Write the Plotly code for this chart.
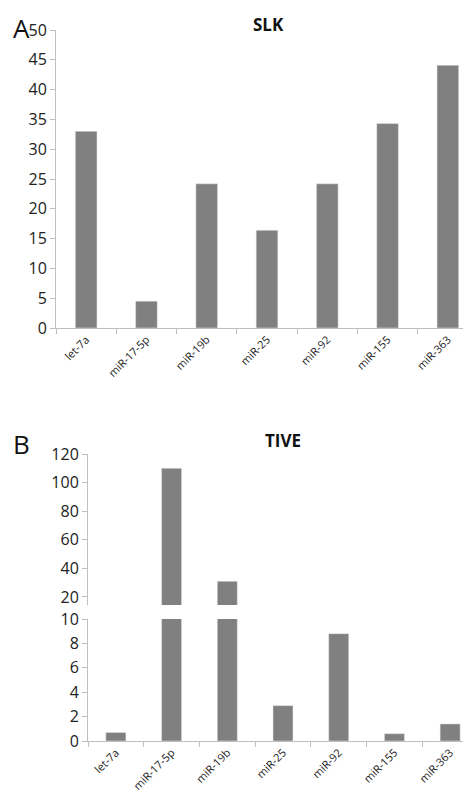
import plotly.graph_objects as go

mirnas = ["let-7a", "miR-17-5p", "miR-19b", "miR-25", "miR-92", "miR-155", "miR-363"]
slk = [33.0, 4.5, 24.2, 16.4, 24.2, 34.3, 44.1]
tive = [0.7, 110, 31, 2.9, 8.8, 0.6, 1.4]

W, H = 471, 800
bar_col = "#808080"
axis_col = "#bfbfbf"
tick_font = dict(family="Open Sans, DejaVu Sans", size=16, color="#222")
cat_font = dict(family="Open Sans, DejaVu Sans", size=11, color="#222")


def px_x(p):
    return p / W


def px_y(p):
    return 1 - p / H


fig = go.Figure()
fig.add_trace(go.Bar(x=mirnas, y=slk, marker_color=bar_col, xaxis="x", yaxis="y"))
fig.add_trace(go.Bar(x=mirnas, y=tive, marker_color=bar_col, xaxis="x2", yaxis="y2"))
fig.add_trace(go.Bar(x=mirnas, y=tive, marker_color=bar_col, xaxis="x3", yaxis="y3"))

xcommon = dict(showline=True, linecolor=axis_col, ticks="outside", tickcolor=axis_col,
               tickson="boundaries", ticklen=5, tickangle=-45, tickfont=cat_font,
               showgrid=False, fixedrange=True, automargin=False)
ycommon = dict(showline=True, linecolor=axis_col, ticks="outside", tickcolor=axis_col,
               ticklen=5, tickfont=tick_font, showgrid=False, zeroline=False, automargin=False)


def label(text, x, y, size, bold=False):
    return dict(text=f"<b>{text}</b>" if bold else text, x=px_x(x), y=px_y(y),
                xref="paper", yref="paper", xanchor="center", yanchor="middle",
                showarrow=False, font=dict(family="Open Sans, DejaVu Sans", size=size, color="#111"))


fig.update_layout(
    width=W, height=H, margin=dict(l=0, r=0, t=0, b=0, autoexpand=False),
    paper_bgcolor="white", plot_bgcolor="white", showlegend=False, bargap=0.64,
    xaxis=dict(domain=[px_x(48), px_x(470)], anchor="y", **xcommon),
    yaxis=dict(domain=[px_y(320), px_y(22)], range=[0, 50], dtick=5, anchor="x", **ycommon),
    xaxis2=dict(domain=[px_x(80), px_x(470)], anchor="y2", **xcommon),
    yaxis2=dict(domain=[px_y(733), px_y(611)], range=[0, 10], dtick=2, anchor="x2", **ycommon),
    xaxis3=dict(domain=[px_x(80), px_x(470)], anchor="y3", matches="x2", visible=False),
    yaxis3=dict(domain=[px_y(597), px_y(446)], range=[14.4, 120], tickvals=[20, 40, 60, 80, 100, 120],
                anchor="x3", **ycommon),
    annotations=[
        label("SLK", 260, 16, 17, bold=True),
        label("TIVE", 275, 432, 17, bold=True),
        label("A", 13, 20, 26),
        label("B", 13, 436, 26),
    ],
)

fig.write_html("out.html")
